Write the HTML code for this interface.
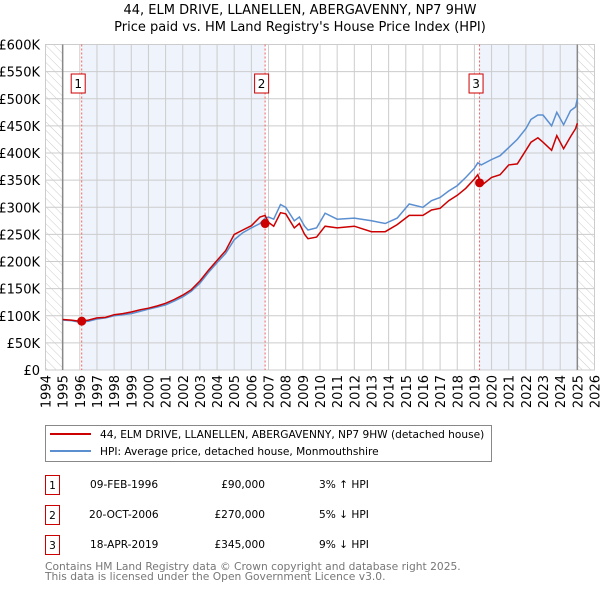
<!DOCTYPE html>
<html><head><meta charset="utf-8"><style>
body{margin:0;background:#fff;font-family:"DejaVu Sans","Liberation Sans",sans-serif;}
svg text{font-family:"DejaVu Sans","Liberation Sans",sans-serif;}
</style></head><body>
<svg id="c" width="600" height="590" xmlns="http://www.w3.org/2000/svg">
<defs><pattern id="hatch" width="6" height="6" patternUnits="userSpaceOnUse" patternTransform="rotate(-45)"><line x1="0" y1="0" x2="0" y2="6" stroke="#ccc" stroke-width="1"/></pattern></defs>
<text x="300" y="14" text-anchor="middle" font-size="13">44, ELM DRIVE, LLANELLEN, ABERGAVENNY, NP7 9HW</text>
<text x="300" y="31" text-anchor="middle" font-size="13">Price paid vs. HM Land Registry's House Price Index (HPI)</text>
<g id="plot"></g>
<g id="legend">
<rect x="45.5" y="425.5" width="446" height="36" fill="#fff" stroke="#888"/>
<line x1="50" y1="434" x2="91" y2="434" stroke="#cc0000" stroke-width="2"/>
<text x="100" y="438" font-size="10.6">44, ELM DRIVE, LLANELLEN, ABERGAVENNY, NP7 9HW (detached house)</text>
<line x1="50" y1="451" x2="91" y2="451" stroke="#5b8fd0" stroke-width="2"/>
<text x="100" y="455" font-size="10.6">HPI: Average price, detached house, Monmouthshire</text>
</g>
<g font-size="10.6">
<rect x="45.5" y="475.5" width="14" height="19" fill="none" stroke="#cc0000"/><text x="52.5" y="489" text-anchor="middle">1</text>
<text x="90" y="488">09-FEB-1996</text><text x="265" y="488" text-anchor="end">£90,000</text><text x="319" y="488">3% ↑ HPI</text>
<rect x="45.5" y="505.5" width="14" height="19" fill="none" stroke="#cc0000"/><text x="52.5" y="519" text-anchor="middle">2</text>
<text x="89" y="518">20-OCT-2006</text><text x="265" y="518" text-anchor="end">£270,000</text><text x="319" y="518">5% ↓ HPI</text>
<rect x="45.5" y="535.5" width="14" height="19" fill="none" stroke="#cc0000"/><text x="52.5" y="549" text-anchor="middle">3</text>
<text x="90" y="548">18-APR-2019</text><text x="265" y="548" text-anchor="end">£345,000</text><text x="319" y="548">9% ↓ HPI</text>
</g>
<text x="45" y="570" font-size="10.7" fill="#777">Contains HM Land Registry data © Crown copyright and database right 2025.</text>
<text x="45" y="580" font-size="10.7" fill="#777">This data is licensed under the Open Government Licence v3.0.</text>
</svg>
<script>
const dates=[1995.0,1995.5,1996.0,1996.5,1997,1997.5,1998,1998.5,1999,1999.5,2000,2000.5,2001,2001.5,2002,2002.5,2003,2003.5,2004,2004.5,2005,2005.5,2006,2006.5,2006.8,2007,2007.3,2007.7,2008,2008.5,2008.8,2009.1,2009.3,2009.8,2010.3,2011,2012,2013,2013.8,2014.5,2015.2,2016,2016.5,2017,2017.5,2018,2018.5,2019.0,2019.2,2019.4,2020,2020.5,2021,2021.5,2022,2022.3,2022.7,2023,2023.5,2023.8,2024.2,2024.6,2024.9,2025.0];
const hpiValues=[92,91,88,90,94,96,100,102,104,108,112,116,120,127,135,145,160,180,198,215,240,253,262,270,280,282,278,305,300,275,282,265,258,262,289,278,280,275,270,280,306,300,312,318,330,340,355,372,382,378,388,395,410,425,445,462,470,470,450,475,452,478,485,500];
const priceValues=[93,92,90,92,96,97,102,104,107,111,114,118,123,130,138,148,164,184,202,220,250,258,266,282,285,272,265,290,288,262,270,250,242,245,265,262,265,255,255,268,285,285,295,298,312,322,335,352,360,340,355,360,378,380,405,420,428,420,405,432,408,430,445,455];
const sales=[1996.11,2006.8,2019.3];
const saleValues=[90,270,345];
const yTicks=[0,50,100,150,200,250,300,350,400,450,500,550,600];
const xTicks=[1994,1995,1996,1997,1998,1999,2000,2001,2002,2003,2004,2005,2006,2007,2008,2009,2010,2011,2012,2013,2014,2015,2016,2017,2018,2019,2020,2021,2022,2023,2024,2025,2026];
const L=45.5,R=594.5,T=44.5,B=370;
const X=v=>L+(v-1994)/32*(R-L);
const Y=v=>B-v/600*(B-T);
const NS='http://www.w3.org/2000/svg';
const g=document.getElementById('plot');
function mk(t,a){const e=document.createElementNS(NS,t);for(const k in a)e.setAttribute(k,a[k]);g.appendChild(e);return e;}
let e=mk('rect',{x:L,y:T,width:X(1995)-L,height:B-T,fill:'url(#hatch)'});

e=mk('rect',{x:X(2025),y:T,width:R-X(2025),height:B-T,fill:'url(#hatch)'});

e=mk('rect',{x:X(sales[0]),y:T,width:X(sales[1])-X(sales[0]),height:B-T,fill:'#eef3fc'});

e=mk('rect',{x:X(sales[2]),y:T,width:X(2025)-X(sales[2]),height:B-T,fill:'#eef3fc'});

yTicks.forEach(v=>{
 const l=mk('line',{x1:L,x2:R,y1:Y(v),y2:Y(v),stroke:'#ccc'});
 
 const t=mk('text',{x:40,y:Y(v)+5,'text-anchor':'end','font-size':'13'});
 t.textContent=v===0?'£0':'£'+v+'K';
 
});
xTicks.forEach(v=>{
 const l=mk('line',{x1:X(v),x2:X(v),y1:T,y2:B,stroke:'#ccc'});
 
 const t=mk('text',{x:0,y:0,'text-anchor':'end','font-size':'13',transform:'translate('+(X(v)+5)+',375) rotate(-90)'});
 t.textContent=v;
 
});
e=mk('rect',{x:L,y:T,width:R-L,height:B-T,fill:'none',stroke:'#ccc'});

e=mk('line',{x1:X(1995),x2:X(1995),y1:T,y2:B,stroke:'#888','stroke-width':1.5});

e=mk('line',{x1:X(2025),x2:X(2025),y1:T,y2:B,stroke:'#888','stroke-width':1.5});

sales.forEach((s,i)=>{
 const l=mk('line',{x1:X(s),x2:X(s),y1:T,y2:B,stroke:'#f06060','stroke-dasharray':'2,2'});
 
 const r=mk('rect',{x:X(s)-10.5,y:74,width:14,height:19,fill:'#fff',stroke:'#cc0000'});
 
 const t=mk('text',{x:X(s)-3.5,y:88,'text-anchor':'middle','font-size':'12'});
 t.textContent=i+1;
 
});
const pts=a=>a.map((v,i)=>X(dates[i]).toFixed(1)+','+Y(v).toFixed(1)).join(' ');
e=mk('polyline',{points:pts(hpiValues),fill:'none',stroke:'#5b8fd0','stroke-width':1.5});

e=mk('polyline',{points:pts(priceValues),fill:'none',stroke:'#cc0000','stroke-width':1.5});

sales.forEach((s,i)=>{
 const c=mk('circle',{cx:X(s),cy:Y(saleValues[i]),r:4.5,fill:'#cc0000'});
 
});
</script>
</body></html>
